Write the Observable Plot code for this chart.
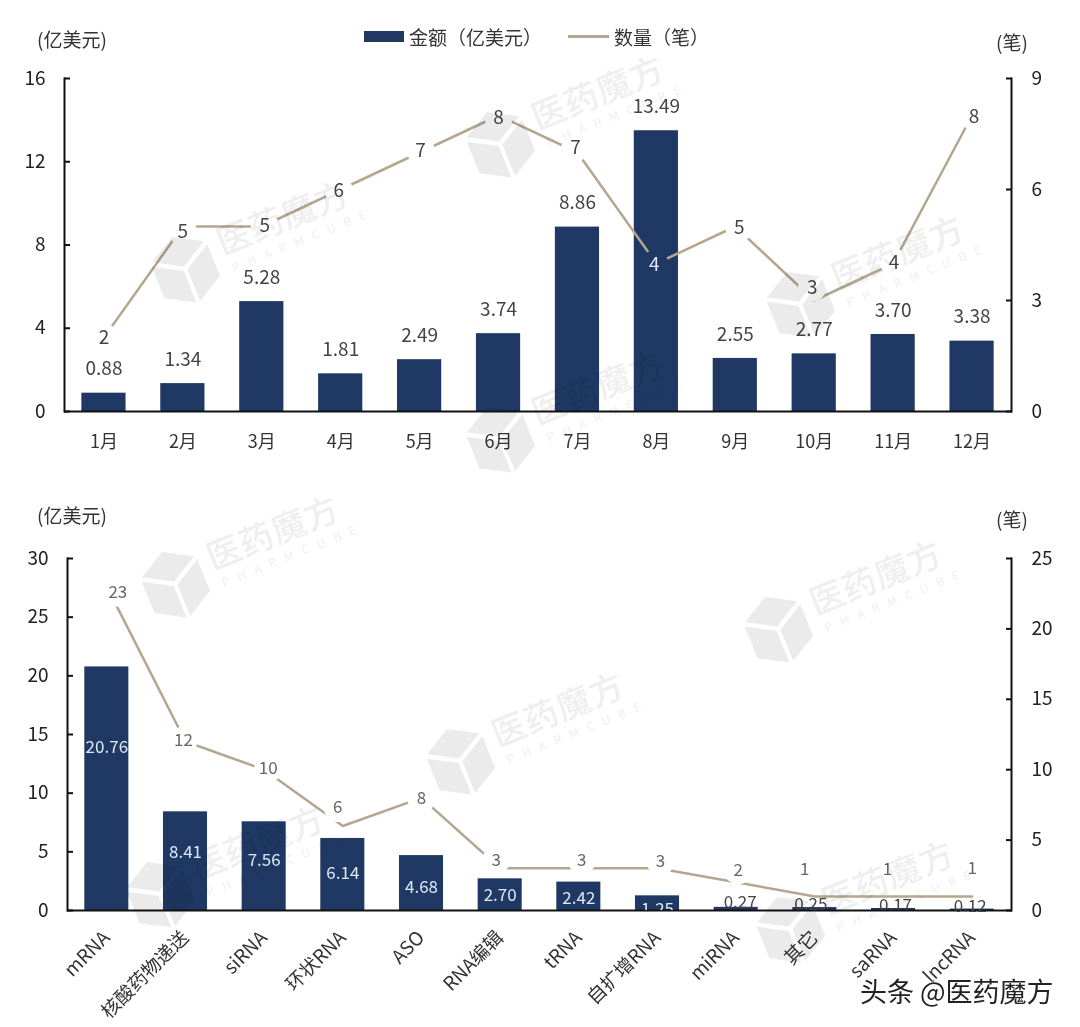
<!DOCTYPE html>
<html><head><meta charset="utf-8">
<script src="https://cdn.jsdelivr.net/npm/d3@7"></script>
<script src="https://cdn.jsdelivr.net/npm/@observablehq/plot@0.6"></script>
<style>
html,body{margin:0;padding:0;background:#fff;}
#page{position:relative;width:1080px;height:1027px;overflow:hidden;font-family:"Noto Sans CJK SC","Noto Sans",sans-serif;color:#333;}
.abs{position:absolute;white-space:nowrap;line-height:1;}
.wm{position:absolute;width:220px;height:70px;transform:rotate(-22deg);color:#efefef;mix-blend-mode:multiply;}
.wm svg{position:absolute;left:-72px;top:-4px;width:64px;height:74px;}
.wm .t1{position:absolute;left:0;top:0;font-size:34px;font-weight:500;letter-spacing:1px;line-height:40px;}
.wm .t2{position:absolute;left:4px;top:42px;font-size:12px;letter-spacing:9px;line-height:14px;}
#page>svg{position:absolute;left:0;}
</style></head>
<body><div id="page"></div>
<script>
const months = ["1月","2月","3月","4月","5月","6月","7月","8月","9月","10月","11月","12月"];
const monthAmount = [0.88,1.34,5.28,1.81,2.49,3.74,8.86,13.49,2.55,2.77,3.70,3.38];
const monthCount = [2,5,5,6,7,8,7,4,5,3,4,8];
const types = ["mRNA","核酸药物递送","siRNA","环状RNA","ASO","RNA编辑","tRNA","自扩增RNA","miRNA","其它","saRNA","lncRNA"];
const typeAmount = [20.76,8.41,7.56,6.14,4.68,2.70,2.42,1.25,0.27,0.25,0.17,0.12];
const typeCount = [23,12,10,6,8,3,3,3,2,1,1,1];
const monthAmountTicks = [0,4,8,12,16];
const monthCountTicks = [0,3,6,9];
const typeAmountTicks = [0,5,10,15,20,25,30];
const typeCountTicks = [0,5,10,15,20,25];

// label nudges in pixels (style, not data)
const monthCountDy = [0,5,-1,1,-2,2,-5,1,1,-13,-1,1];
const monthCountDx = [0,0,3,-2,1,0,-2,-2,4,-2,1,2];
const typeCountDy = [6,-1,-1,-18,1,-8,-8,-7,-12,-27,-27,-28];
const typeCountDx = [11,-2,4,-5,0,-4,3,3,2,-10,-6,0];
const typeAmountDy = [81,41,39,35,32,17,16,14,-5,-3,-3,-3];
const typeAmountDx = [0,0,0,0,0,0,0,0,4,-4,2,-2];

const NAVY="#1f3864", TAN="#b5a78f", INK="#222", LABEL="#444", LIGHT="#dfeaf7", FONT='"Noto Sans CJK SC","Noto Sans",sans-serif';
const page=document.getElementById("page");

function frameMarks(k,rTicks,lTicks){
  return [
    Plot.axisY({ticks:lTicks,tickSize:-6,tickPadding:25,fontSize:19,color:INK,stroke:"#111",strokeWidth:2,label:null,tickFormat:d=>d}),
    Plot.axisY({anchor:"right",ticks:rTicks.map(v=>v*k),tickFormat:v=>Math.round(v/k),tickSize:-6,tickPadding:26,fontSize:19,color:INK,stroke:"#111",strokeWidth:2,label:null}),
    Plot.ruleY([0],{stroke:"#111",strokeWidth:2}),
    Plot.frame({anchor:"left",stroke:"#111",strokeWidth:2}),
    Plot.frame({anchor:"right",stroke:"#111",strokeWidth:2})
  ];
}

// ---- top chart
const k1=16/9;
const top1=Plot.plot({
  width:1080,height:460,marginLeft:64,marginRight:69,marginTop:78,marginBottom:49,
  style:{background:"transparent",fontFamily:FONT,overflow:"visible"},
  x:{type:"band",domain:months,paddingInner:0.44,paddingOuter:0.22,round:false,label:null},
  y:{domain:[0,16],label:null},
  marks:[
    Plot.barY(months,{x:d=>d,y:(d,i)=>monthAmount[i],fill:NAVY}),
    Plot.lineY(months,{x:d=>d,y:(d,i)=>monthCount[i]*k1,stroke:TAN,strokeWidth:2.5}),
    ...months.map((m,i)=>Plot.dot([m],{x:d=>d,y:()=>monthCount[i]*k1,dx:monthCountDx[i],dy:monthCountDy[i],r:14,fill:i===7?NAVY:"white",stroke:null})),
    ...frameMarks(k1,monthCountTicks,monthAmountTicks),
    Plot.axisX({fontSize:18,tickSize:0,tickPadding:24,color:"#333",label:null}),
    Plot.text(months,{x:d=>d,y:(d,i)=>monthAmount[i],text:(d,i)=>monthAmount[i].toFixed(2),dy:-24,fontSize:19,fill:LABEL}),
    ...months.map((m,i)=>Plot.text([m],{x:d=>d,y:()=>monthCount[i]*k1,text:()=>String(monthCount[i]),dx:monthCountDx[i],dy:monthCountDy[i],fontSize:19,fill:i===7?LIGHT:LABEL}))
  ]
});
top1.style.top="0px";page.appendChild(top1);

// ---- bottom chart
const k2=30/25;
const bottom=Plot.plot({
  width:1080,height:567,marginLeft:67,marginRight:69,marginTop:98,marginBottom:117,
  style:{background:"transparent",fontFamily:FONT,overflow:"visible"},
  x:{type:"band",domain:types,paddingInner:0.44,paddingOuter:0.22,round:false,label:null},
  y:{domain:[0,30],label:null},
  marks:[
    Plot.lineY(types,{x:d=>d,y:(d,i)=>typeCount[i]*k2,stroke:TAN,strokeWidth:2.5}),
    ...types.map((m,i)=>Plot.dot([m],{x:d=>d,y:()=>typeCount[i]*k2,dx:typeCountDx[i],dy:typeCountDy[i],r:14,fill:"white",stroke:null})),
    Plot.barY(types,{x:d=>d,y:(d,i)=>typeAmount[i],fill:NAVY}),
    ...frameMarks(k2,typeCountTicks,typeAmountTicks),
    Plot.axisX({fontSize:19,tickSize:0,tickPadding:24,tickRotate:-45,color:"#333",label:null}),
    ...types.map((m,i)=>Plot.text([m],{x:d=>d,y:()=>typeAmount[i],text:()=>typeAmount[i].toFixed(2),dx:typeAmountDx[i],dy:typeAmountDy[i],fontSize:17,fill:i<8?LIGHT:LABEL,clip:i>=7&&i<11})),
    ...types.map((m,i)=>Plot.text([m],{x:d=>d,y:()=>typeCount[i]*k2,text:()=>String(typeCount[i]),dx:typeCountDx[i],dy:typeCountDy[i],fontSize:17,fill:"#666"}))
  ]
});
bottom.style.top="460px";page.appendChild(bottom);

// ---- legend & unit captions
function addText(txt,x,y,size,extra){
  const d=document.createElement("div");d.className="abs";d.textContent=txt;
  d.style.left=x+"px";d.style.top=(y-size/2)+"px";d.style.fontSize=size+"px";
  if(extra)Object.assign(d.style,extra);page.appendChild(d);return d;
}
addText("(亿美元)",37,38,19);
addText("(笔)",996,41,19);
addText("(亿美元)",37,514,19);
addText("(笔)",996,518,19);
addText("金额（亿美元）",409,36,19);
addText("数量（笔）",614,36,19);
const sw=document.createElement("div");sw.className="abs";Object.assign(sw.style,{left:"364px",top:"31px",width:"40px",height:"11px",background:NAVY});page.appendChild(sw);
const ln=document.createElement("div");ln.className="abs";Object.assign(ln.style,{left:"568px",top:"35px",width:"41px",height:"2.5px",background:TAN});page.appendChild(ln);

// watermark layer (multiplied over the chart, faint on the bars)
const cube='<svg viewBox="0 0 64 74"><g fill="#ebebeb"><polygon points="32,2 60,18 32,34 4,18"/><polygon points="2,22 30,38 30,72 2,56"/><polygon points="62,22 34,38 34,72 62,56"/></g></svg>';
[[530,55],[215,180],[830,215],[530,350],[205,495],[808,540],[490,672],[190,805],[820,840]].forEach(([x,y])=>{
  const w=document.createElement("div");w.className="wm";w.style.left=x+"px";w.style.top=y+"px";
  w.innerHTML=cube+'<div class="t1">医药魔方</div><div class="t2">PHARMCUBE</div>';
  page.appendChild(w);
});
addText("头条 @医药魔方",860,990,27,{color:"#222",whiteSpace:"pre",textShadow:"0 0 3px #fff,0 0 3px #fff"});
</script>
</body></html>
